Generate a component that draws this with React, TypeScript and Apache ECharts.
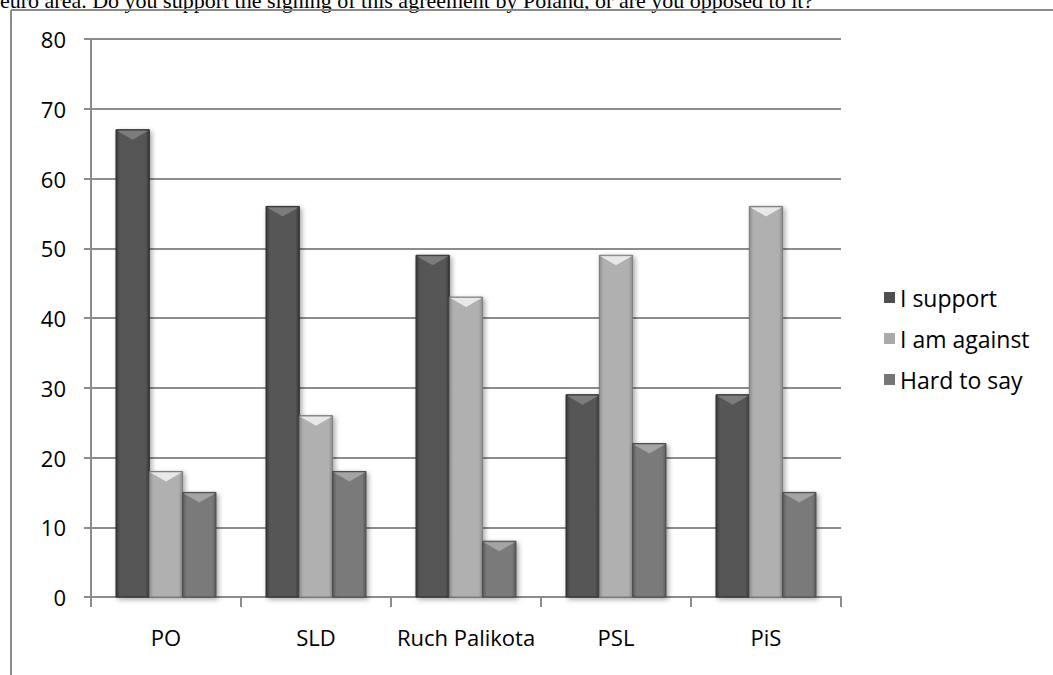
import React, { useEffect, useRef } from "react";
import * as echarts from "echarts";

const categories = ["PO", "SLD", "Ruch Palikota", "PSL", "PiS"];
const seriesNames = ["I support", "I am against", "Hard to say"];
const supportValues = [67, 56, 49, 29, 29];
const againstValues = [18, 26, 43, 49, 56];
const hardValues = [15, 18, 8, 22, 15];
const yTicks = [0, 10, 20, 30, 40, 50, 60, 70, 80];
const titleText =
  "euro area. Do you support the signing of this agreement by Poland, or are you opposed to it?";

const palette = [
  { edge: "#383838", mid: "#565656", tri: "#7c7c7c", border: "#2e2e2e", legend: "#4f4f4f" },
  { edge: "#8c8c8c", mid: "#b0b0b0", tri: "#e8e8e8", border: "#7a7a7a", legend: "#aaaaaa" },
  { edge: "#5a5a5a", mid: "#7a7a7a", tri: "#a4a4a4", border: "#4a4a4a", legend: "#767676" },
];

export default function App() {
  const ref = useRef<HTMLDivElement>(null);
  useEffect(() => {
    if (!ref.current) return;
    const chart = echarts.init(ref.current, undefined, { renderer: "svg" });
    const allValues = [supportValues, againstValues, hardValues];
    const font = "Open Sans";

    const makeSeries = (idx: number) => ({
      type: "custom",
      name: seriesNames[idx],
      itemStyle: { color: palette[idx].legend },
      data: allValues[idx].map((v, i) => [i, v]),
      encode: { x: 0, y: 1 },
      renderItem: (params: any, api: any) => {
        const cat = api.value(0);
        const val = api.value(1);
        const base = api.coord([cat, 0]);
        const top = api.coord([cat, val]);
        const band = api.size([1, 0])[0];
        const bw = (band * (2 / 3)) / 3;
        const left = base[0] - 1.5 * bw + idx * bw;
        const right = left + bw;
        const cx = left + bw / 2;
        const y0 = base[1];
        const y1 = top[1];
        const h = Math.min(10, y0 - y1);
        const p = palette[idx];
        return {
          type: "group",
          children: [
            {
              type: "rect",
              shape: { x: left, y: y1, width: bw, height: y0 - y1 },
              style: {
                fill: new echarts.graphic.LinearGradient(0, 0, 1, 0, [
                  { offset: 0, color: p.edge },
                  { offset: 0.12, color: p.mid },
                  { offset: 0.88, color: p.mid },
                  { offset: 1, color: p.edge },
                ]),
                stroke: p.border,
                lineWidth: 1,
                shadowBlur: 5,
                shadowOffsetX: 2,
                shadowOffsetY: 2,
                shadowColor: "rgba(0,0,0,0.35)",
              },
            },
            {
              type: "polygon",
              shape: {
                points: [
                  [left + 1, y1 + 1],
                  [right - 1, y1 + 1],
                  [cx, y1 + h],
                ],
              },
              style: { fill: p.tri },
            },
          ],
        };
      },
    });

    chart.setOption({
      animation: false,
      backgroundColor: "#ffffff",
      grid: { left: 91, right: 212, top: 39, bottom: 78 },
      legend: {
        orient: "vertical",
        left: 879,
        top: 281,
        itemWidth: 11,
        itemHeight: 11,
        itemGap: 18,
        icon: "rect",
        data: seriesNames,
        textStyle: { fontFamily: font, fontSize: 23, color: "#000", lineHeight: 22 },
      },
      xAxis: {
        type: "category",
        data: categories,
        axisLine: { show: true, lineStyle: { color: "#8c8c8c", width: 2 } },
        axisTick: { show: true, length: 10, lineStyle: { color: "#8c8c8c", width: 2 } },
        axisLabel: { fontFamily: font, fontSize: 22, color: "#000", margin: 29, interval: 0 },
        splitLine: { show: false },
      },
      yAxis: {
        type: "value",
        min: yTicks[0],
        max: yTicks[yTicks.length - 1],
        interval: 10,
        axisLine: { show: true, lineStyle: { color: "#8c8c8c", width: 2 } },
        axisTick: { show: true, length: 7, lineStyle: { color: "#8c8c8c", width: 2 } },
        axisLabel: { fontFamily: font, fontSize: 22, color: "#000", margin: 25 },
        splitLine: { show: true, lineStyle: { color: "#8c8c8c", width: 2 } },
      },
      graphic: [
        {
          type: "text",
          x: 0,
          y: 11,
          style: {
            text: titleText,
            font: '22px "Liberation Serif"',
            fill: "#000",
            verticalAlign: "bottom",
          },
        },
        {
          type: "line",
          shape: { x1: 11, y1: 10, x2: 1053, y2: 10 },
          style: { stroke: "#8a8a8a", lineWidth: 2 },
        },
        {
          type: "line",
          shape: { x1: 11, y1: 10, x2: 11, y2: 675 },
          style: { stroke: "#8a8a8a", lineWidth: 2 },
        },
      ],
      series: [makeSeries(0), makeSeries(1), makeSeries(2)],
    });
    return () => chart.dispose();
  }, []);
  return (
    <div
      ref={ref}
      style={{ position: "fixed", left: 0, top: 0, width: 1053, height: 675 }}
    />
  );
}
